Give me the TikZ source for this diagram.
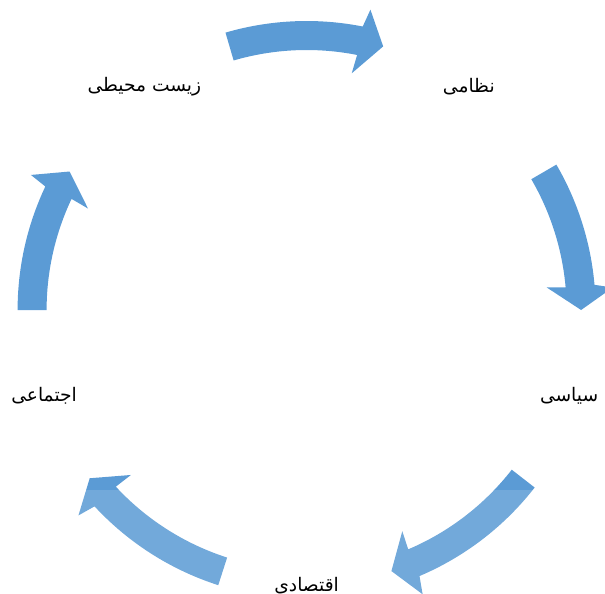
\documentclass[tikz,border=0pt]{standalone}
\usepackage{fontspec}
\newfontfamily\arabicfont[Script=Arabic]{DejaVu Sans}
\TeXXeTstate=1
\definecolor{arrowblue}{RGB}{91,155,213}

% curved block arrow on the cycle: tail angle, tip angle (clockwise)
\newcommand{\cyclearrow}[2]{%
  \fill[arrowblue] (#1:260) -- (#1:289)
    arc[start angle=#1, end angle={#2+5}, radius=289]
    -- ({#2+4.2}:307) -- (#2:274.5) -- ({#2+5.4}:241) -- ({#2+5}:260)
    arc[start angle={#2+5}, end angle=#1, radius=260] -- cycle;}

\begin{document}
\begin{tikzpicture}[x=0.75pt,y=0.75pt,
  lbl/.style={font=\arabicfont\fontsize{14}{16}\selectfont}]
\useasboundingbox (-306.6,-283) rectangle (298.4,310);

\cyclearrow{106.3}{73.8}
\cyclearrow{30.2}{0}
\cyclearrow{-37.9}{-72}
\cyclearrow{-107.8}{-142.2}
\cyclearrow{180}{149.7}

% washed lower band
\fill[white,opacity=0.14] (-306.6,-283) rectangle (298.4,-180);

\node[lbl] (nezami) at (54:276) {\beginR نظامی\endR};
\node[lbl] (siasi) at (-18:276) {\beginR سیاسی\endR};
\node[lbl] (eqtesadi) at (-90:276) {\beginR اقتصادی\endR};
\node[lbl] (ejtemai) at (198:276) {\beginR اجتماعی\endR};
\node[lbl] (zist) at (126:276) {\beginR زیست محیطی\endR};
\end{tikzpicture}
\end{document}
